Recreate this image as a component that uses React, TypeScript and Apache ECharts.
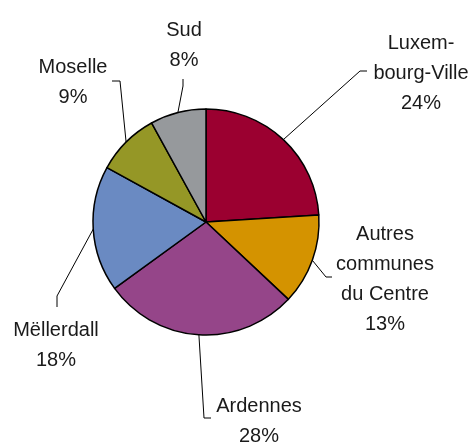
import React, { useEffect, useRef } from "react";
import * as echarts from "echarts";

const categories = ["Luxembourg-Ville", "Autres communes du Centre", "Ardennes", "Mëllerdall", "Moselle", "Sud"];
const labelTexts = ["Luxem-\nbourg-Ville", "Autres\ncommunes\ndu Centre", "Ardennes", "Mëllerdall", "Moselle", "Sud"];
const shares = [24, 13, 28, 18, 9, 8];
const colors = ["#9B0030", "#D49300", "#954589", "#6A8AC2", "#959726", "#96999C"];

// label block centres and leader-line bend/end points (layout only)
const labelPos: number[][] = [[421, 72], [385, 278], [259, 420], [56, 344], [73, 81], [184, 44]];
const linePts: number[][][] = [
  [[360, 71], [367, 71]],
  [[326, 277], [332, 277]],
  [[204, 418], [211, 418]],
  [[57, 296], [57, 307]],
  [[120, 81], [112, 81]],
  [[183, 86], [183, 79]],
];

export default function App() {
  const ref = useRef<HTMLDivElement>(null);
  useEffect(() => {
    const chart = echarts.init(ref.current!, null, { renderer: "svg" });
    chart.setOption({
      animation: false,
      textStyle: { fontFamily: "Liberation Sans" },
      series: [
        {
          type: "pie",
          center: [206, 222],
          radius: 113,
          startAngle: 90,
          clockwise: true,
          avoidLabelOverlap: false,
          data: categories.map((c, i) => ({
            name: c,
            value: shares[i],
            itemStyle: { color: colors[i] },
          })),
          itemStyle: { borderColor: "#000", borderWidth: 1.5 },
          label: {
            show: true,
            position: "outside",
            formatter: (p: any) => `${labelTexts[p.dataIndex]}\n${p.value}%`,
            fontFamily: "Liberation Sans",
            fontSize: 20,
            lineHeight: 30,
            color: "#1a1a1a",
            align: "center",
          },
          labelLine: { show: true, lineStyle: { color: "#000", width: 1 }, length: 10, length2: 10 },
          labelLayout: (params: any) => {
            const i = params.dataIndex;
            const p0 = params.labelLinePoints ? params.labelLinePoints[0] : null;
            const res: any = {
              x: labelPos[i][0],
              y: labelPos[i][1],
              align: "center",
              verticalAlign: "middle",
            };
            if (p0) res.labelLinePoints = [p0, linePts[i][0], linePts[i][1]];
            return res;
          },
        },
      ],
    });
    return () => chart.dispose();
  }, []);
  return <div ref={ref} style={{ position: "fixed", left: 0, top: 0, width: 474, height: 442 }} />;
}
